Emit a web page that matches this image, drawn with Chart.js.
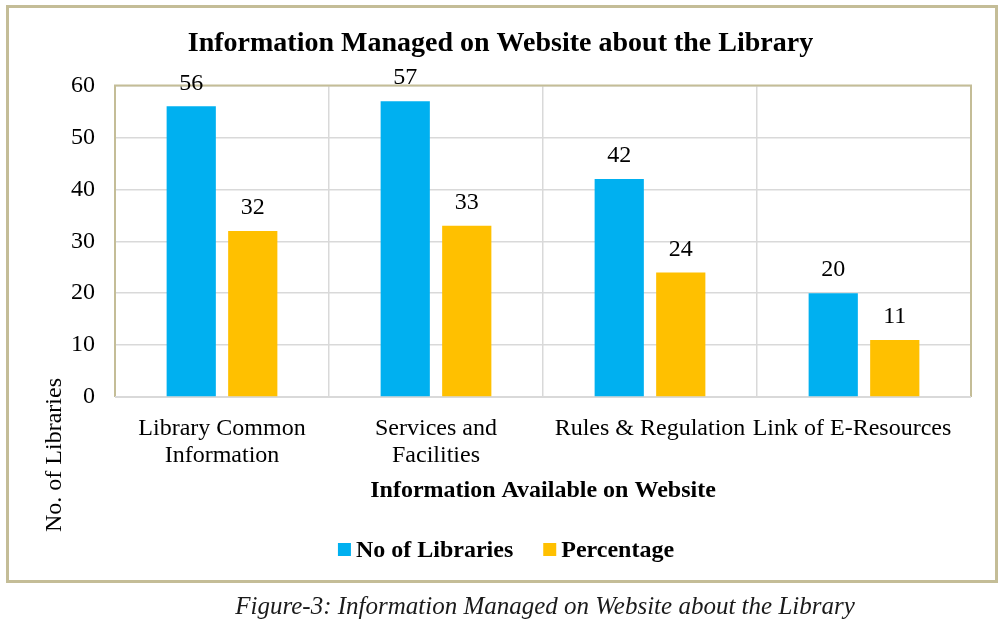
<!DOCTYPE html>
<html>
<head>
<meta charset="utf-8">
<script src="https://cdn.jsdelivr.net/npm/chart.js@4.4.0/dist/chart.umd.min.js"></script>
<style>
  html, body { margin: 0; padding: 0; background: #fff; }
  #wrap { position: relative; width: 1007px; height: 640px; overflow: hidden; }
  #box { position: absolute; left: 6px; top: 5px; width: 986px; height: 572px; border: 3px solid #C4BD97; }
  #cv { position: absolute; left: 0; top: 0; }
  #caption { position: absolute; left: 0; width: 1090px; top: 592px; text-align: center;
    font: italic 25px "Liberation Serif", "DejaVu Serif", serif; color: #1a1a1a; }
</style>
</head>
<body>
<div id="wrap">
  <div id="box"></div>
  <canvas id="cv" width="1007" height="640"></canvas>
  <div id="caption">Figure-3: Information Managed on Website about the Library</div>
</div>
<script>
const categories = [["Library Common", "Information"], ["Services and", "Facilities"], "Rules & Regulation", "Link of E-Resources    "];
const noOfLibraries = [56, 57, 42, 20];
const percentage = [32, 33, 24, 11];
const yTicks = [0, 10, 20, 30, 40, 50, 60];

const SERIF = '"Liberation Serif", "Times New Roman", serif';

const valueLabels = {
  id: 'valueLabels',
  afterDatasetsDraw(chart) {
    const ctx = chart.ctx;
    ctx.save();
    ctx.font = '24px ' + SERIF;
    ctx.fillStyle = '#000';
    ctx.textAlign = 'center';
    ctx.textBaseline = 'middle';
    chart.data.datasets.forEach((ds, i) => {
      chart.getDatasetMeta(i).data.forEach((bar, j) => {
        ctx.fillText(String(ds.data[j]), bar.x, bar.y - 23);
      });
    });
    ctx.restore();
  }
};

const extras = {
  id: 'extras',
  beforeDatasetsDraw(chart) {
    const {left, top, right, bottom} = chart.chartArea;
    const ctx = chart.ctx;
    ctx.save();
    ctx.strokeStyle = '#C4BD97';
    ctx.lineWidth = 2;
    ctx.beginPath();
    ctx.moveTo(left, bottom);
    ctx.lineTo(left, top);
    ctx.lineTo(right, top);
    ctx.lineTo(right, bottom);
    ctx.stroke();
    ctx.strokeStyle = '#D9D9D9';
    ctx.beginPath();
    ctx.moveTo(left, bottom);
    ctx.lineTo(right, bottom);
    ctx.stroke();
    ctx.restore();
  },
  afterDraw(chart) {
    const ctx = chart.ctx;
    // y axis title (offset low, as in the reference)
    ctx.save();
    ctx.font = '24px ' + SERIF;
    ctx.fillStyle = '#000';
    ctx.textAlign = 'center';
    ctx.textBaseline = 'middle';
    ctx.translate(55, 455);
    ctx.rotate(-Math.PI / 2);
    ctx.fillText('No. of Libraries', 0, 0);
    ctx.restore();
    // legend
    ctx.save();
    ctx.font = 'bold 24px ' + SERIF;
    ctx.textBaseline = 'middle';
    ctx.textAlign = 'left';
    const ds = chart.data.datasets;
    const box = 13, gapText = 5, gapItem = 30;
    const widths = ds.map(d => ctx.measureText(d.label).width);
    const total = widths.reduce((a, w) => a + box + gapText + w, 0) + gapItem * (ds.length - 1);
    let x = 506 - total / 2;
    const y = 551;
    ds.forEach((d, i) => {
      ctx.fillStyle = d.backgroundColor;
      ctx.fillRect(x, y - 8, box, box);
      ctx.fillStyle = '#000';
      ctx.fillText(d.label, x + box + gapText, y);
      x += box + gapText + widths[i] + gapItem;
    });
    ctx.restore();
  }
};

new Chart(document.getElementById('cv'), {
  type: 'bar',
  data: {
    labels: categories,
    datasets: [
      { label: 'No of Libraries', data: noOfLibraries, backgroundColor: '#00B0F0', categoryPercentage: 0.575, barPercentage: 0.8 },
      { label: 'Percentage', data: percentage, backgroundColor: '#FFC000', categoryPercentage: 0.575, barPercentage: 0.8 }
    ]
  },
  options: {
    responsive: false,
    animation: false,
    layout: { padding: { top: 0, left: 30, right: 36, bottom: 100 } },
    plugins: {
      title: {
        display: true,
        text: 'Information Managed on Website about the Library',
        font: { family: SERIF, size: 28, weight: 'bold' },
        color: '#000',
        padding: { top: 27, bottom: 25 }
      },
      legend: { display: false },
      tooltip: { enabled: false }
    },
    scales: {
      y: {
        min: 0, max: 60,
        afterFit(scale) { scale.width = 85; },
        afterBuildTicks(scale) { scale.ticks = yTicks.map(v => ({ value: v })); },
        ticks: { font: { family: SERIF, size: 24 }, color: '#000', padding: 20 },
        grid: { color: '#D9D9D9', lineWidth: 1.5, drawTicks: false },
        border: { display: false }
      },
      x: {
        afterFit(scale) { scale.height = 143; },
        ticks: { font: { family: SERIF, size: 24, lineHeight: 1.125 }, color: '#000', padding: 18, maxRotation: 0, autoSkip: false },
        grid: { color: '#D9D9D9', lineWidth: 1.5, drawTicks: false, offset: true },
        border: { display: false },
        title: {
          display: true,
          text: 'Information Available on Website',
          font: { family: SERIF, size: 24, weight: 'bold' },
          color: '#000',
          padding: { top: 4, bottom: 35 }
        }
      }
    }
  },
  plugins: [valueLabels, extras]
});
</script>
</body>
</html>
